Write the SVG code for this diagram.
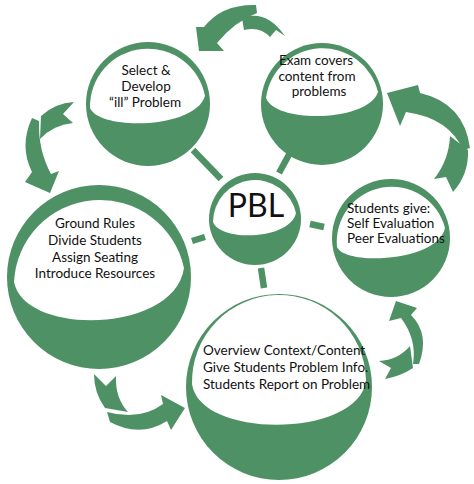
<svg xmlns="http://www.w3.org/2000/svg" width="474" height="484" viewBox="0 0 474 484">
<style>
.g{fill:#4e9165}
.w{fill:#ffffff}
.t{font-family:Lato,"Liberation Sans",sans-serif;font-size:13.5px;fill:#111}
.c{text-anchor:middle}
.ln{stroke:#4e9165;stroke-width:6.5;fill:none}
</style>
<rect width="474" height="484" fill="#ffffff"/>
<g id="connectors">
<line class="ln" x1="193" y1="150" x2="221" y2="179"/>
<line class="ln" x1="291" y1="151" x2="279" y2="173"/>
<line class="ln" x1="310" y1="224" x2="324" y2="227"/>
<line class="ln" x1="192" y1="241" x2="205" y2="237"/>
<line class="ln" x1="261" y1="268" x2="264" y2="288"/>
</g>
<g id="arrows" class="g">
<path d="M242,18 Q266,9 285,36 L276,30 L270,37 Q260,26 244,30 Z"/>
<path d="M256,5 Q222,4 204,27 L196,27 L199,51 L224,51 L217,43 Q234,22 257,13 Z"/>
<path d="M41,116 Q55,103 74,102 L63,114 L73,123 Q53,125 40,139 Z"/>
<path d="M32,118 Q19,146 32,172 L25,182 L50,193 L59,171 L51,174 Q38,150 39,121 Z"/>
<path d="M450,136 L468,150 Q469,174 453,192 L446,177 L434,179 Q449,160 450,136 Z"/>
<path d="M470,148 Q464,103 420,93 L418,85 L387,93 L400,126 L406,112 Q449,118 463,150 Z"/>
<path d="M94,374 L106,386 L116,376 Q115,398 128,412 L105,408 Q94,393 94,374 Z"/>
<path d="M107,412 Q140,421 163,404 L161,395 L185,408 L171,430 L167,421 Q140,438 110,422 Z"/>
<path d="M379,361 Q398,360 410,346 L413,368 Q401,376 385,379 L391,368 Z"/>
<path d="M419,364 Q430,334 411,315 L417,308 L396,301 L389,321 L401,318 Q417,339 413,364 Z"/>
</g>
<g id="node-select">
<circle class="g" cx="148" cy="104" r="62"/>
<path class="w" d="M90,108 A58,58 0 0 1 205,96 C195,129 100,131 90,108 Z"/>
<text class="t c" x="146" y="75">Select &amp;</text>
<text class="t c" x="146" y="91">Develop</text>
<text class="t c" x="145" y="107">“ill” Problem</text>
</g>
<g id="node-exam">
<circle class="g" cx="322" cy="104" r="61"/>
<path class="w" d="M266,98 A57,57 0 0 1 378,92 C368,122 276,124 266,98 Z"/>
<text class="t c" x="316" y="65">Exam covers</text>
<text class="t c" x="317" y="81">content from</text>
<text class="t c" x="319" y="96">problems</text>
</g>
<g id="node-pbl">
<circle class="g" cx="255" cy="219" r="46"/>
<path class="w" d="M213,222 A42,42 0 0 1 296,213 C290,240 220,242 213,222 Z"/>
<text x="256" y="217" text-anchor="middle" style="font-family:Lato,'Liberation Sans',sans-serif;font-size:32px;fill:#111">PBL</text>
</g>
<g id="node-students">
<circle class="g" cx="391" cy="238" r="59"/>
<path class="w" d="M337,247 A55,55 0 0 1 445,228 C438,262 345,266 337,247 Z"/>
<text class="t" x="347" y="213">Students give:</text>
<text class="t" x="347" y="228">Self Evaluation</text>
<text class="t" x="347" y="243">Peer Evaluations</text>
</g>
<g id="node-ground">
<circle class="g" cx="99" cy="277" r="92"/>
<path class="w" d="M14,282 A86,86 0 0 1 184,268 C175,333 25,337 14,282 Z"/>
<text class="t c" x="95" y="228">Ground Rules</text>
<text class="t c" x="95" y="245">Divide Students</text>
<text class="t c" x="95" y="262">Assign Seating</text>
<text class="t c" x="95" y="278">Introduce Resources</text>
</g>
<g id="node-overview">
<circle class="g" cx="279" cy="387" r="93"/>
<path class="w" d="M192,384 A87,87 0 0 1 366,380 C360,438 200,440 192,384 Z"/>
<text class="t" x="203" y="355">Overview Context/Content</text>
<text class="t" x="203" y="372">Give Students Problem Info.</text>
<text class="t" x="203" y="389">Students Report on Problem</text>
</g>
</svg>
